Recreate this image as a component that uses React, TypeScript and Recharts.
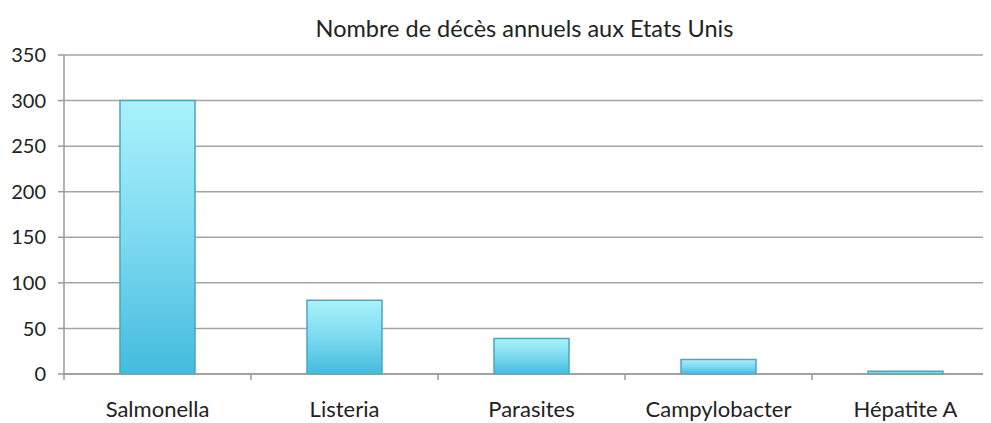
import React from 'react';
import { BarChart, Bar, XAxis, YAxis, CartesianGrid } from 'recharts';

const categories = ['Salmonella', 'Listeria', 'Parasites', 'Campylobacter', 'Hépatite A'];
const deaths = [300, 81, 39, 16, 3];
const yTicks = [0, 50, 100, 150, 200, 250, 300, 350];
const title = 'Nombre de décès annuels aux Etats Unis';

const data = categories.map((name, i) => ({ name, value: deaths[i] }));

const CHART_W = 1000;
const CHART_H = 423;
const M = { top: 55, right: 1, bottom: 0, left: 0 };
const Y_W = 64;
const X_H = 49;
const BAND = (CHART_W - M.right - M.left - Y_W) / categories.length;
const FONT = 'Lato, "Open Sans", sans-serif';

const XTick = (props: any) => {
  const { x, y, payload, index } = props;
  const left = x - BAND / 2;
  return (
    <g>
      <line x1={left} y1={y - 8} x2={left} y2={y - 2} stroke="#9a9a9a" strokeWidth={1.5} />
      {index === categories.length - 1 ? (
        <line x1={left + BAND} y1={y - 8} x2={left + BAND} y2={y - 2} stroke="#9a9a9a" strokeWidth={1.5} />
      ) : null}
      <text x={x} y={y + 35} textAnchor="middle" fill="#222" fontSize={22} fontFamily={FONT}>
        {payload.value}
      </text>
    </g>
  );
};

export default function App() {
  return (
    <div style={{ marginLeft: -8, marginTop: -8, width: 999, height: 423, overflow: 'hidden', position: 'relative', background: '#fff' }}>
      <div
        style={{
          position: 'absolute',
          top: 14,
          left: 52,
          width: 945,
          textAlign: 'center',
          fontFamily: FONT,
          fontSize: 23.5,
          color: '#222',
          lineHeight: '28px',
        }}
      >
        {title}
      </div>
      <BarChart width={CHART_W} height={CHART_H} data={data} margin={M} barCategoryGap={0}>
        <defs>
          <linearGradient id="barFill" x1="0" y1="0" x2="0" y2="1">
            <stop offset="0%" stopColor="#aaf2fc" />
            <stop offset="50%" stopColor="#7ddaf1" />
            <stop offset="100%" stopColor="#44bbdd" />
          </linearGradient>
        </defs>
        <CartesianGrid vertical={false} stroke="#a4a4a4" strokeWidth={1.5} />
        <XAxis
          dataKey="name"
          tick={<XTick />}
          tickLine={false}
          axisLine={{ stroke: '#9a9a9a', strokeWidth: 1.5 }}
          height={X_H}
          interval={0}
        />
        <YAxis
          domain={[0, 350]}
          ticks={yTicks}
          width={Y_W}
          tickSize={6}
          tickMargin={12}
          tickLine={{ stroke: '#9a9a9a', strokeWidth: 1.5 }}
          axisLine={{ stroke: '#9a9a9a', strokeWidth: 1.5 }}
          tick={{ fill: '#222', fontSize: 20, fontFamily: FONT }}
          interval={0}
        />
        <Bar dataKey="value" fill="url(#barFill)" stroke="#4aa6bf" strokeWidth={1.5} barSize={75} isAnimationActive={false} />
      </BarChart>
    </div>
  );
}
